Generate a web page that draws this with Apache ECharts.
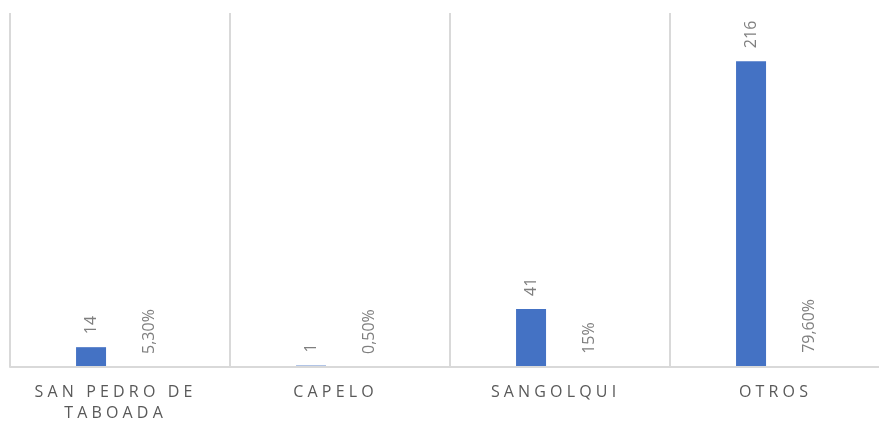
<!DOCTYPE html>
<html>
<head>
<meta charset="utf-8">
<style>
  html, body { margin: 0; padding: 0; background: #ffffff; overflow: hidden; }
  #chart { width: 890px; height: 422px; }
</style>
<script src="https://cdn.jsdelivr.net/npm/echarts@6/dist/echarts.min.js"></script>
</head>
<body>
<div id="chart"></div>
<script>
// Localidades y su número de casos
const categories = ['SAN PEDRO DE TABOADA', 'CAPELO', 'SANGOLQUI', 'OTROS'];
const counts = [14, 1, 41, 216];
// Porcentaje del total (en %)
const percents = [5.3, 0.5, 15, 79.6];

const FONT = '"Open Sans", "Liberation Sans", sans-serif';

// Spread out the letters of the category names (wide tracking)
function spaced(name) {
  return name.split(' ')
    .map(w => w.split('').join(' '))
    .join('   ');
}

function pctLabel(p) {
  if (Number.isInteger(p)) return p + '%';
  return p.toFixed(2).replace('.', ',') + '%';
}

// Split the first label into two lines as the narrow column requires
function wrapName(name) {
  if (name === 'SAN PEDRO DE TABOADA') {
    return spaced('SAN PEDRO DE') + '\n' + spaced('TABOADA');
  }
  return spaced(name);
}

const chart = echarts.init(document.getElementById('chart'), null, { renderer: 'canvas' });

const valueLabel = {
  show: true,
  position: 'top',
  rotate: 90,
  align: 'left',
  verticalAlign: 'middle',
  distance: 13,
  color: '#7f7f7f',
  fontFamily: FONT,
  fontSize: 16
};

chart.setOption({
  animation: false,
  backgroundColor: '#ffffff',
  grid: { left: 10, top: 13, right: 0, height: 354, containLabel: false, outerBoundsMode: 'none' },
  xAxis: {
    type: 'category',
    data: categories,
    boundaryGap: true,
    z: 3,
    axisTick: { show: false },
    axisLine: { show: true, lineStyle: { color: '#d9d9d9', width: 2 } },
    splitLine: { show: true, lineStyle: { color: '#d9d9d9', width: 2 } },
    axisLabel: {
      interval: 0,
      margin: 15,
      color: '#595959',
      fontFamily: FONT,
      fontSize: 16,
      lineHeight: 21,
      padding: [0, 13, 0, 0],
      formatter: wrapName
    }
  },
  yAxis: {
    type: 'value',
    min: 0,
    max: 250,
    show: false,
    splitLine: { show: false }
  },
  series: [
    {
      name: 'Casos',
      type: 'bar',
      data: counts,
      barWidth: 30,
      barGap: '93%',
      itemStyle: { color: '#4472c4' },
      label: valueLabel
    },
    {
      name: 'Porcentaje',
      type: 'bar',
      data: percents.map(p => p / 100),
      barWidth: 30,
      itemStyle: { color: 'rgba(237,125,49,0)' },
      label: Object.assign({}, valueLabel, {
        formatter: (params) => pctLabel(percents[params.dataIndex])
      })
    }
  ]
});
</script>
</body>
</html>
